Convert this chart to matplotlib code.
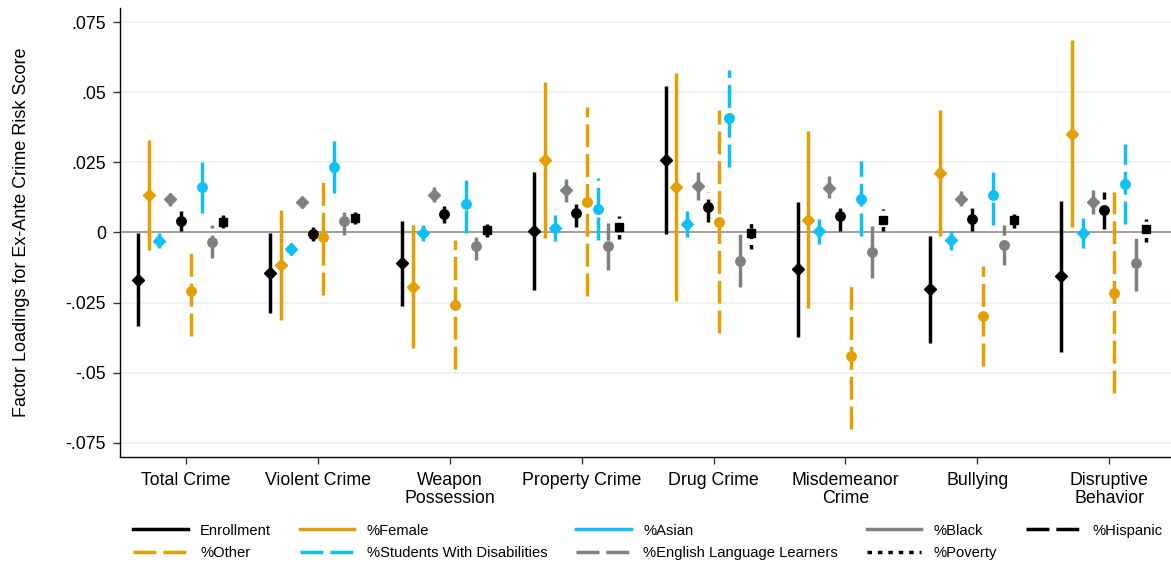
import matplotlib
matplotlib.use("Agg")
import matplotlib.pyplot as plt
from matplotlib.lines import Line2D

plt.rcParams['font.family'] = ['Liberation Sans', 'DejaVu Sans']

categories = ["Total Crime", "Violent Crime", "Weapon\nPossession", "Property Crime",
              "Drug Crime", "Misdemeanor\nCrime", "Bullying", "Disruptive\nBehavior"]

# (estimate, ci low, ci high) per category
enrollment = [(-0.0168, -0.0334, -0.0002), (-0.0145, -0.0289, -0.0002), (-0.0109, -0.0263, 0.0042),
              (0.0004, -0.0207, 0.0217), (0.0259, -0.0005, 0.0523), (-0.0130, -0.0372, 0.0110),
              (-0.0202, -0.0394, -0.0012), (-0.0156, -0.0427, 0.0113)]
female = [(0.0134, -0.0064, 0.0330), (-0.0117, -0.0314, 0.0081), (-0.0194, -0.0411, 0.0025),
          (0.0259, -0.0020, 0.0537), (0.0161, -0.0245, 0.0570), (0.0045, -0.0269, 0.0362),
          (0.0213, -0.0014, 0.0438), (0.0353, 0.0020, 0.0685)]
asian = [(-0.0030, -0.0057, -0.0002), (-0.0058, -0.0082, -0.0036), (-0.0002, -0.0032, 0.0027),
         (0.0016, -0.0032, 0.0063), (0.0031, -0.0016, 0.0078), (0.0004, -0.0041, 0.0048),
         (-0.0028, -0.0062, 0.0004), (-0.0002, -0.0057, 0.0050)]
black = [(0.0119, 0.0093, 0.0142), (0.0108, 0.0087, 0.0128), (0.0134, 0.0107, 0.0161),
         (0.0152, 0.0110, 0.0190), (0.0166, 0.0116, 0.0217), (0.0160, 0.0122, 0.0202),
         (0.0121, 0.0095, 0.0149), (0.0110, 0.0066, 0.0151)]
hispanic = [(0.0042, 0.0006, 0.0075), (-0.0005, -0.0032, 0.0021), (0.0065, 0.0033, 0.0095),
            (0.0071, 0.0021, 0.0105), (0.0092, 0.0037, 0.0146), (0.0059, 0.0006, 0.0092),
            (0.0048, 0.0007, 0.0087), (0.0079, 0.0011, 0.0145)]
other = [(-0.0210, -0.0370, -0.0071), (-0.0017, -0.0224, 0.0184), (-0.0257, -0.0486, -0.0026),
         (0.0110, -0.0228, 0.0446), (0.0039, -0.0358, 0.0436), (-0.0441, -0.0702, -0.0184),
         (-0.0298, -0.0477, -0.0121), (-0.0215, -0.0572, 0.0145)]
disab = [(0.0161, 0.0071, 0.0253), (0.0234, 0.0140, 0.0327), (0.0101, -0.0002, 0.0191),
         (0.0084, -0.0028, 0.0196), (0.0407, 0.0233, 0.0581), (0.0120, -0.0014, 0.0255),
         (0.0132, 0.0025, 0.0217), (0.0173, 0.0030, 0.0316)]
ell = [(-0.0033, -0.0092, 0.0025), (0.0042, -0.0008, 0.0077), (-0.0050, -0.0097, -0.0014),
       (-0.0050, -0.0133, 0.0033), (-0.0100, -0.0194, -0.0005), (-0.0070, -0.0162, 0.0024),
       (-0.0044, -0.0115, 0.0027), (-0.0108, -0.0210, -0.0018)]
poverty = [(0.0037, 0.0016, 0.0062), (0.0050, 0.0030, 0.0072), (0.0010, -0.0016, 0.0030),
           (0.0021, -0.0022, 0.0057), (-0.0002, -0.0059, 0.0051), (0.0045, 0.0004, 0.0083),
           (0.0045, 0.0016, 0.0065), (0.0012, -0.0033, 0.0047)]

yticks = [-0.075, -0.05, -0.025, 0, 0.025, 0.05, 0.075]
ytick_labels = ["-.075", "-.05", "-.025", "0", ".025", ".05", ".075"]

BLACK, ORANGE, BLUE, GRAY = "#000000", "#E69F00", "#0DC0F5", "#808080"
dashed = (0, (6.6, 2.0))
dotted = (0, (1.3, 1.7))

series = [
    ("Enrollment", enrollment, BLACK, "-", "D"),
    ("%Female", female, ORANGE, "-", "D"),
    ("%Asian", asian, BLUE, "-", "D"),
    ("%Black", black, GRAY, "-", "D"),
    ("%Hispanic", hispanic, BLACK, dashed, "o"),
    ("%Other", other, ORANGE, dashed, "o"),
    ("%Students With Disabilities", disab, BLUE, dashed, "o"),
    ("%English Language Learners", ell, GRAY, dashed, "o"),
    ("%Poverty", poverty, BLACK, dotted, "s"),
]

fig = plt.figure(figsize=(11.71, 5.67), dpi=100)
ax = fig.add_axes([0.1025, 0.1945, 0.901, 0.791])

step = 0.0804
lw = 2.5
for k, (name, vals, color, ls, marker) in enumerate(series):
    off = (k - 4.5) * step
    for i, (est, lo, hi) in enumerate(vals):
        x = i + 1 + off
        ax.plot([x, x], [lo, hi], color=color, lw=lw, linestyle=ls,
                solid_capstyle='butt', dash_capstyle='butt', zorder=3)
        ms = {"D": 6.5, "o": 6.8, "s": 6.4}[marker]
        ax.plot([x], [est], marker=marker, ms=ms, color=color, mec=color, zorder=4)

ax.axhline(0, color="#999999", lw=1.3, zorder=2)
for t in yticks:
    ax.axhline(t, color="#EAF0F2", lw=1.2, zorder=1)

ax.set_xlim(0.5, 8.5)
ax.set_ylim(-0.08, 0.08)
ax.set_yticks(yticks)
ax.set_yticklabels(ytick_labels, fontsize=12.8)
ax.set_xticks(range(1, 9))
ax.set_xticklabels(categories, fontsize=12.8, linespacing=1.1)
ax.tick_params(axis='both', length=5, width=1, color="#333333")
ax.tick_params(axis='x', pad=6)
ax.tick_params(axis='y', pad=5)
ax.set_ylabel("Factor Loadings for Ex-Ante Crime Risk Score", fontsize=13, labelpad=26)

for side in ["top", "right"]:
    ax.spines[side].set_visible(False)
ax.spines["left"].set_linewidth(1.0)
ax.spines["bottom"].set_linewidth(1.0)

# legend filled row by row in 5 columns
handles = {name: Line2D([0], [0], color=color, lw=lw, linestyle=ls)
           for name, vals, color, ls, marker in series}
order = ["Enrollment", "%Other", "%Female", "%Students With Disabilities", "%Asian",
         "%English Language Learners", "%Black", "%Poverty", "%Hispanic"]
fig.legend([handles[n] for n in order], order, ncol=5, frameon=False, fontsize=10.6,
           loc="center", bbox_to_anchor=(648 / 1171, 1 - 542 / 567),
           handlelength=3.7, handletextpad=0.85, columnspacing=1.95, labelspacing=0.6)

fig.savefig("out.png", dpi=100)
